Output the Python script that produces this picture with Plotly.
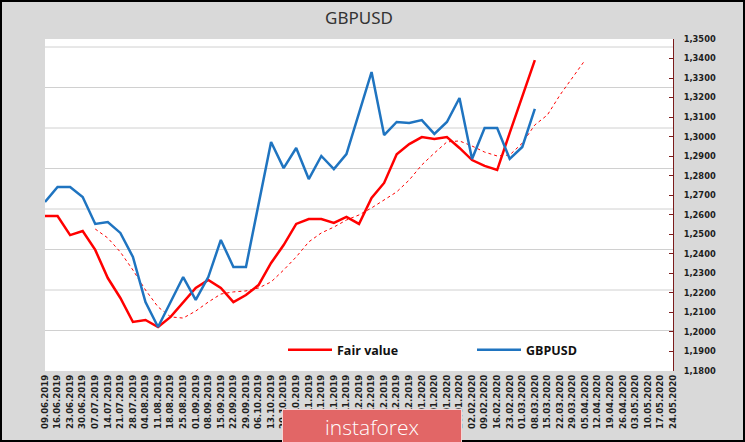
import plotly.graph_objects as go

weeks = ["09.06.2019", "16.06.2019", "23.06.2019", "30.06.2019", "07.07.2019", "14.07.2019",
         "21.07.2019", "28.07.2019", "04.08.2019", "11.08.2019", "18.08.2019", "25.08.2019",
         "01.09.2019", "08.09.2019", "15.09.2019", "22.09.2019", "29.09.2019", "06.10.2019",
         "13.10.2019", "20.10.2019", "27.10.2019", "03.11.2019", "10.11.2019", "17.11.2019",
         "24.11.2019", "01.12.2019", "08.12.2019", "15.12.2019", "22.12.2019", "29.12.2019",
         "05.01.2020", "12.01.2020", "19.01.2020", "26.01.2020", "02.02.2020", "09.02.2020",
         "16.02.2020", "23.02.2020", "01.03.2020", "08.03.2020", "15.03.2020", "22.03.2020",
         "29.03.2020", "05.04.2020", "12.04.2020", "19.04.2020", "26.04.2020", "03.05.2020",
         "10.05.2020", "17.05.2020", "24.05.2020"]

gbpusd = [1.2665, 1.2742, 1.2742, 1.2691, 1.2553, 1.2563, 1.2507, 1.2384, 1.2153, 1.2025,
          1.2153, 1.2281, 1.2164, 1.2281, 1.2471, 1.2333, 1.2333, 1.2655, 1.2973, 1.2839,
          1.2942, 1.2783, 1.2901, 1.2834, 1.2911, 1.3121, 1.3331, 1.3008, 1.3075, 1.3070,
          1.3085, 1.3014, 1.3075, 1.3198, 1.2886, 1.3044, 1.3044, 1.2886, 1.2947, 1.3142]

fair_value = [1.2594, 1.2594, 1.2496, 1.2517, 1.2420, 1.2276, 1.2174, 1.2051, 1.2061, 1.2025,
              1.2077, 1.2153, 1.2225, 1.2266, 1.2225, 1.2153, 1.2189, 1.2240, 1.2353, 1.2445,
              1.2553, 1.2578, 1.2578, 1.2558, 1.2589, 1.2553, 1.2686, 1.2763, 1.2910, 1.2962,
              1.2998, 1.2988, 1.2998, 1.2942, 1.2880, 1.2850, 1.2829, 1.3019, 1.3208, 1.3392]

# smoothed fair value, shifted 4 weeks ahead
trend_weeks = weeks[4:44]
fair_trend = [1.2527, 1.2481, 1.2409, 1.2317, 1.2215, 1.2128, 1.2077, 1.2071, 1.2107, 1.2153,
              1.2194, 1.2205, 1.2210, 1.2225, 1.2256, 1.2317, 1.2384, 1.2461, 1.2507, 1.2537,
              1.2573, 1.2599, 1.2635, 1.2676, 1.2717, 1.2778, 1.2855, 1.2916, 1.2973, 1.2978,
              1.2952, 1.2921, 1.2901, 1.2906, 1.2967, 1.3060, 1.3111, 1.3213, 1.3300, 1.3392]

W, H = 745, 442
ML, MR, MT, MB = 45, 72, 39, 71
PW, PH = W - ML - MR, H - MT - MB

y_font = dict(family="DejaVu Sans", size=8.3, color="#1e1e1e", weight="bold")
x_font = dict(family="DejaVu Sans", size=8.6, color="#1e1e1e", weight="bold")

# the light grid in the original follows a hidden primary scale, not the price ticks
grid_step = 0.020738
grid_shapes = [dict(type="line", xref="x", x0=0, x1=len(weeks) - 1, yref="y",
                    y0=1.18 + k * grid_step, y1=1.18 + k * grid_step,
                    line=dict(color="#d0d0d0", width=1), layer="below")
               for k in range(1, 9)]

fig = go.Figure()
fig.add_trace(go.Scatter(x=trend_weeks, y=fair_trend, mode="lines", showlegend=False,
                         line=dict(color="#ff0000", width=1, dash="dot"), hoverinfo="skip"))
fig.add_trace(go.Scatter(x=weeks[:len(fair_value)], y=fair_value, mode="lines",
                         name="Fair value", line=dict(color="#ff0000", width=2.5)))
fig.add_trace(go.Scatter(x=weeks[:len(gbpusd)], y=gbpusd, mode="lines",
                         name="GBPUSD", line=dict(color="#1f74c0", width=2.5)))

fig.update_layout(
    width=W, height=H,
    margin=dict(l=ML, r=MR, t=MT, b=MB),
    paper_bgcolor="#d9d9d9", plot_bgcolor="white",
    separators=", ",
    title=dict(text="GBPUSD", x=(ML + PW / 2) / W, xanchor="center", y=1 - 18 / H, yanchor="middle",
               font=dict(family="Noto Sans", size=17, color="#333333")),
    xaxis=dict(type="category", categoryorder="array", categoryarray=weeks, range=[0, len(weeks) - 1],
               tickangle=-90, tickfont=x_font, showgrid=False, showline=False, ticks="",
               zeroline=False, ticklabelstandoff=1),
    yaxis=dict(side="right", range=[1.18, 1.35], dtick=0.01, tickformat=".4f", tickfont=y_font,
               showgrid=False, zeroline=False, showline=True, linecolor="#7b1c1c", linewidth=1,
               ticks="inside", ticklen=4, tickcolor="#7b1c1c", ticklabelstandoff=8),
    legend=dict(orientation="h", x=(283 - ML) / PW, xanchor="left", y=(MT + PH - 350) / PH,
                yanchor="middle", bgcolor="rgba(0,0,0,0)", entrywidth=130, itemwidth=44,
                font=dict(family="Open Sans", size=12.5, color="#111111", weight="bold")),
    showlegend=True,
    annotations=[dict(text="instaforex", xref="paper", yref="paper",
                      x=(372 - ML) / PW, y=-(427 - MT - PH) / PH, xanchor="center", yanchor="middle",
                      showarrow=False, bgcolor="#e26666", bordercolor="#f4d6d6", borderwidth=1,
                      width=176, height=32,
                      font=dict(family="Open Sans", size=21, color="white", weight=300))],
    shapes=grid_shapes + [dict(type="rect", xref="paper", yref="paper",
                               x0=-(ML - 1) / PW, x1=1 + (MR - 1) / PW,
                               y0=-(MB - 1) / PH, y1=1 + (MT - 1) / PH,
                               line=dict(color="black", width=2), layer="above")],
)

fig.write_html("out.html", config={"displayModeBar": False},
               post_script="document.body.style.margin='0';")
